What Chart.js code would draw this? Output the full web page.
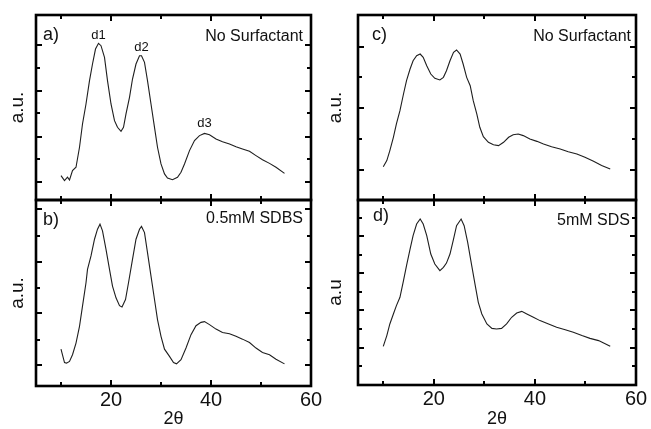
<!DOCTYPE html>
<html><head><meta charset="utf-8">
<script src="https://cdn.jsdelivr.net/npm/chart.js@4.4.1/dist/chart.umd.min.js"></script>
<style>
html,body{margin:0;padding:0;background:#fff;}
#wrap{position:relative;width:651px;height:429px;overflow:hidden;background:#fff;}
#wrap canvas{position:absolute;left:0;top:0;}
</style></head><body>
<div id="wrap">
<canvas id="cA" width="651" height="429"></canvas>
<canvas id="cB" width="651" height="429"></canvas>
<canvas id="cC" width="651" height="429"></canvas>
<canvas id="cD" width="651" height="429"></canvas>
</div>
<script>
// ---------- data ----------
const twoThetaA = [10.0,10.7,11.3,11.7,12.3,13.0,13.7,14.3,15.0,15.7,16.3,16.9,17.5,18.0,18.7,19.3,20.0,20.7,21.3,22.0,22.5,23.0,23.7,24.3,25.0,25.7,26.1,26.7,27.3,28.0,28.7,29.3,30.0,30.7,31.3,32.3,33.3,34.0,34.7,35.7,36.7,37.7,38.7,39.7,41.0,42.3,43.7,45.0,46.3,47.7,49.0,50.3,51.7,53.0,54.7];
const intensityA = [13.2,10.5,12.3,10.8,15.9,17.7,28.5,41.1,51.9,64.5,73.5,81.6,84.7,83.4,77.1,64.5,51.9,42.9,39.3,37.1,39.3,46.5,55.5,65.4,73.5,78.0,78.0,74.4,64.5,51.9,39.3,28.5,19.5,14.1,11.9,11.0,12.3,15.0,19.5,26.7,32.1,34.8,36.0,35.3,33.0,31.5,30.3,28.8,27.6,26.3,24.0,21.8,19.8,17.7,14.4];

const twoThetaB = [10.0,10.7,11.1,11.7,12.3,13.0,13.7,14.3,15.0,15.3,16.0,16.7,17.3,17.8,18.3,19.0,19.7,20.3,21.0,21.7,22.2,22.9,23.5,24.3,25.0,25.7,26.1,26.7,27.3,28.0,28.7,29.3,30.0,30.7,31.7,32.5,33.1,34.0,35.0,36.0,37.0,38.0,38.7,39.7,41.0,42.3,43.7,45.0,46.3,47.7,49.0,50.3,51.7,53.0,54.7];
const intensityB = [19.8,12.6,12.3,13.2,16.8,23.1,32.1,42.9,55.5,62.7,69.9,78.9,84.3,87.0,83.4,73.5,62.7,53.7,47.4,43.2,42.5,46.5,55.5,68.1,78.9,84.3,85.8,82.5,71.7,59.1,46.5,35.7,26.7,19.8,15.9,12.6,11.9,14.1,20.4,27.6,32.4,34.2,34.6,33.0,30.6,28.8,28.1,26.7,25.2,23.4,20.4,18.0,16.8,14.4,11.9];

const twoThetaC = [10.0,10.7,11.3,12.0,12.6,13.3,14.0,14.6,15.3,15.9,16.6,17.3,17.9,18.6,19.4,20.2,21.2,21.9,22.5,23.2,23.9,24.5,25.2,25.8,26.5,27.2,27.8,28.5,29.1,29.8,30.8,31.8,32.8,33.8,34.8,35.7,36.7,37.7,39.0,40.4,41.7,43.3,45.0,46.6,48.3,49.9,51.6,53.2,54.9];
const intensityC = [18.0,21.3,26.7,33.9,41.1,48.3,57.3,64.5,70.8,75.3,78.0,78.9,77.1,72.6,68.1,65.8,64.9,66.3,69.9,75.3,79.8,81.1,78.9,73.5,66.3,61.8,53.7,46.5,39.3,34.2,31.2,29.9,29.4,31.2,33.9,35.3,35.7,34.8,33.0,31.7,30.3,28.8,27.6,26.1,24.9,23.1,20.9,18.6,16.8];

const twoThetaD = [10.0,10.7,11.3,12.0,12.6,13.3,14.0,14.6,15.3,15.9,16.6,17.3,17.9,18.6,19.4,20.2,21.2,21.9,22.5,23.2,23.9,24.5,25.4,26.0,26.7,27.5,28.2,28.8,29.5,30.5,31.5,32.4,33.4,34.4,35.4,36.4,37.4,38.4,39.7,41.0,42.7,44.3,46.0,47.6,49.3,50.9,52.6,53.6,54.9];
const intensityD = [20.9,26.7,33.0,38.4,42.9,47.4,56.4,64.5,73.5,80.7,87.0,89.7,87.0,80.7,70.8,65.4,61.8,63.6,65.9,70.8,78.9,86.1,89.7,86.1,77.1,64.5,53.7,44.7,38.4,33.0,30.6,30.3,30.6,33.0,36.6,38.9,39.8,38.4,36.6,34.8,33.0,31.2,29.9,28.5,26.7,25.2,24.0,22.7,20.9];

const xTickLabels = [20, 40, 60];
const xMinorTicks = [10, 30, 50];
const yMajorA = [9.7, 34.1, 58.9, 83.8];  const yMinorA = [22.2, 47.0, 71.4];
const yMajorB = [11.1, 39.1, 66.8, 95.1]; const yMinorB = [24.9, 52.9, 80.6];
const yMajorC = [16.4, 49.5, 82.5];       const yMinorC = [33.0, 66.3];
const yMajorD = [20.2, 40.4, 60.6, 80.4]; const yMinorD = [10.5, 30.3, 50.5, 70.5, 90.1];

const panelLabels = ['a)', 'b)', 'c)', 'd)'];
const sampleLabels = ['No Surfactant', '0.5mM SDBS', 'No Surfactant', '5mM SDS'];
const peakLabels = ['d1', 'd2', 'd3'];
const yTitles = ['a.u.', 'a.u.', 'a.u.', 'a.u'];
const xTitle = '2\u03B8';

// ---------- drawing ----------
const FONT = '"Liberation Sans", Arial, Helvetica, sans-serif';
const W = 651, H = 429;

const framePlugin = {
  id: 'frame',
  afterDraw(chart, args, o) {
    const {ctx, chartArea: ca, scales: {x, y}} = chart;
    ctx.save();
    ctx.strokeStyle = '#000';
    ctx.lineCap = 'butt';
    const seg = (x1, y1, x2, y2) => { ctx.beginPath(); ctx.moveTo(x1, y1); ctx.lineTo(x2, y2); ctx.stroke(); };
    ctx.lineWidth = 2;
    const xt = (v, len) => { const p = Math.round(x.getPixelForValue(v)); seg(p, ca.bottom, p, ca.bottom - len); seg(p, ca.top, p, ca.top + len); };
    const yt = (v, len) => { const p = Math.round(y.getPixelForValue(v)); seg(ca.left, p, ca.left + len, p); seg(ca.right, p, ca.right - len, p); };
    xTickLabels.forEach(v => xt(v, 6));
    xMinorTicks.forEach(v => xt(v, 4));
    o.yMajor.forEach(v => yt(v, 6));
    o.yMinor.forEach(v => yt(v, 4));
    ctx.lineWidth = 2.6;
    ctx.strokeRect(ca.left, ca.top, ca.right - ca.left, ca.bottom - ca.top);
    ctx.fillStyle = '#111';
    ctx.textBaseline = 'alphabetic';
    ctx.font = '18px ' + FONT;
    ctx.textAlign = 'left';
    ctx.fillText(o.label, ca.left + o.labelDx, ca.top + o.labelDy);
    ctx.font = '16px ' + FONT;
    ctx.textAlign = 'right';
    ctx.fillText(o.sample, ca.right - o.sampleDx, ca.top + o.sampleDy);
    if (o.peaks) {
      ctx.font = '13px ' + FONT;
      ctx.textAlign = 'center';
      o.peaks.forEach(p => ctx.fillText(p.text, x.getPixelForValue(p.x), y.getPixelForValue(p.y)));
    }
    ctx.restore();
  }
};

function makePanel(id, xs, ys, box, showX, yTitle, frameOpts) {
  new Chart(document.getElementById(id), {
    type: 'line',
    data: { datasets: [{
      data: xs.map((v, i) => ({x: v, y: ys[i]})),
      borderColor: '#1e1e1e', borderWidth: 1.1, pointRadius: 0, tension: 0, fill: false
    }]},
    options: {
      responsive: false, animation: false, events: [],
      layout: { padding: { left: box.padLeft, top: box.top, right: W - box.right, bottom: showX ? 0 : H - box.bottom } },
      plugins: { legend: {display: false}, tooltip: {enabled: false}, frame: frameOpts },
      scales: {
        x: {
          type: 'linear', min: 5, max: 60, display: showX,
          afterBuildTicks: s => { s.ticks = xTickLabels.map(v => ({value: v})); },
          afterFit: s => { s.height = showX ? H - box.bottom : 0; },
          grid: {display: false, drawTicks: false}, border: {display: false},
          ticks: { font: {size: 20, family: FONT, lineHeight: 1.2}, color: '#111', padding: 2, autoSkip: false, maxRotation: 0 },
          title: { display: true, text: xTitle, font: {size: 18, family: FONT, lineHeight: 1}, color: '#111', padding: {top: 0, bottom: 1} }
        },
        y: {
          type: 'linear', min: 0, max: 100, position: 'left',
          afterFit: s => { s.width = box.left - box.padLeft; },
          ticks: {display: false}, grid: {display: false, drawTicks: false}, border: {display: false},
          title: { display: true, text: yTitle, font: {size: 19, family: FONT, lineHeight: 1.2}, color: '#111', padding: {top: 6, bottom: 0} }
        }
      }
    },
    plugins: [framePlugin]
  });
}

makePanel('cA', twoThetaA, intensityA, {padLeft: 0, left: 36, top: 15, right: 311, bottom: 200}, false, yTitles[0],
  {yMajor: yMajorA, yMinor: yMinorA, label: panelLabels[0], labelDx: 7, labelDy: 25, sample: sampleLabels[0], sampleDx: 8, sampleDy: 26,
   peaks: [{text: peakLabels[0], x: 17.5, y: 87}, {text: peakLabels[1], x: 26.1, y: 80.5}, {text: peakLabels[2], x: 38.7, y: 39.5}]});
makePanel('cB', twoThetaB, intensityB, {padLeft: 0, left: 36, top: 200, right: 311, bottom: 386}, true, yTitles[1],
  {yMajor: yMajorB, yMinor: yMinorB, label: panelLabels[1], labelDx: 7, labelDy: 25, sample: sampleLabels[1], sampleDx: 8, sampleDy: 23});
makePanel('cC', twoThetaC, intensityC, {padLeft: 318, left: 358, top: 15, right: 636, bottom: 200}, false, yTitles[2],
  {yMajor: yMajorC, yMinor: yMinorC, label: panelLabels[2], labelDx: 14, labelDy: 25, sample: sampleLabels[2], sampleDx: 5, sampleDy: 26});
makePanel('cD', twoThetaD, intensityD, {padLeft: 318, left: 358, top: 200, right: 636, bottom: 385}, true, yTitles[3],
  {yMajor: yMajorD, yMinor: yMinorD, label: panelLabels[3], labelDx: 15, labelDy: 21, sample: sampleLabels[3], sampleDx: 6, sampleDy: 25});
</script>
</body></html>
